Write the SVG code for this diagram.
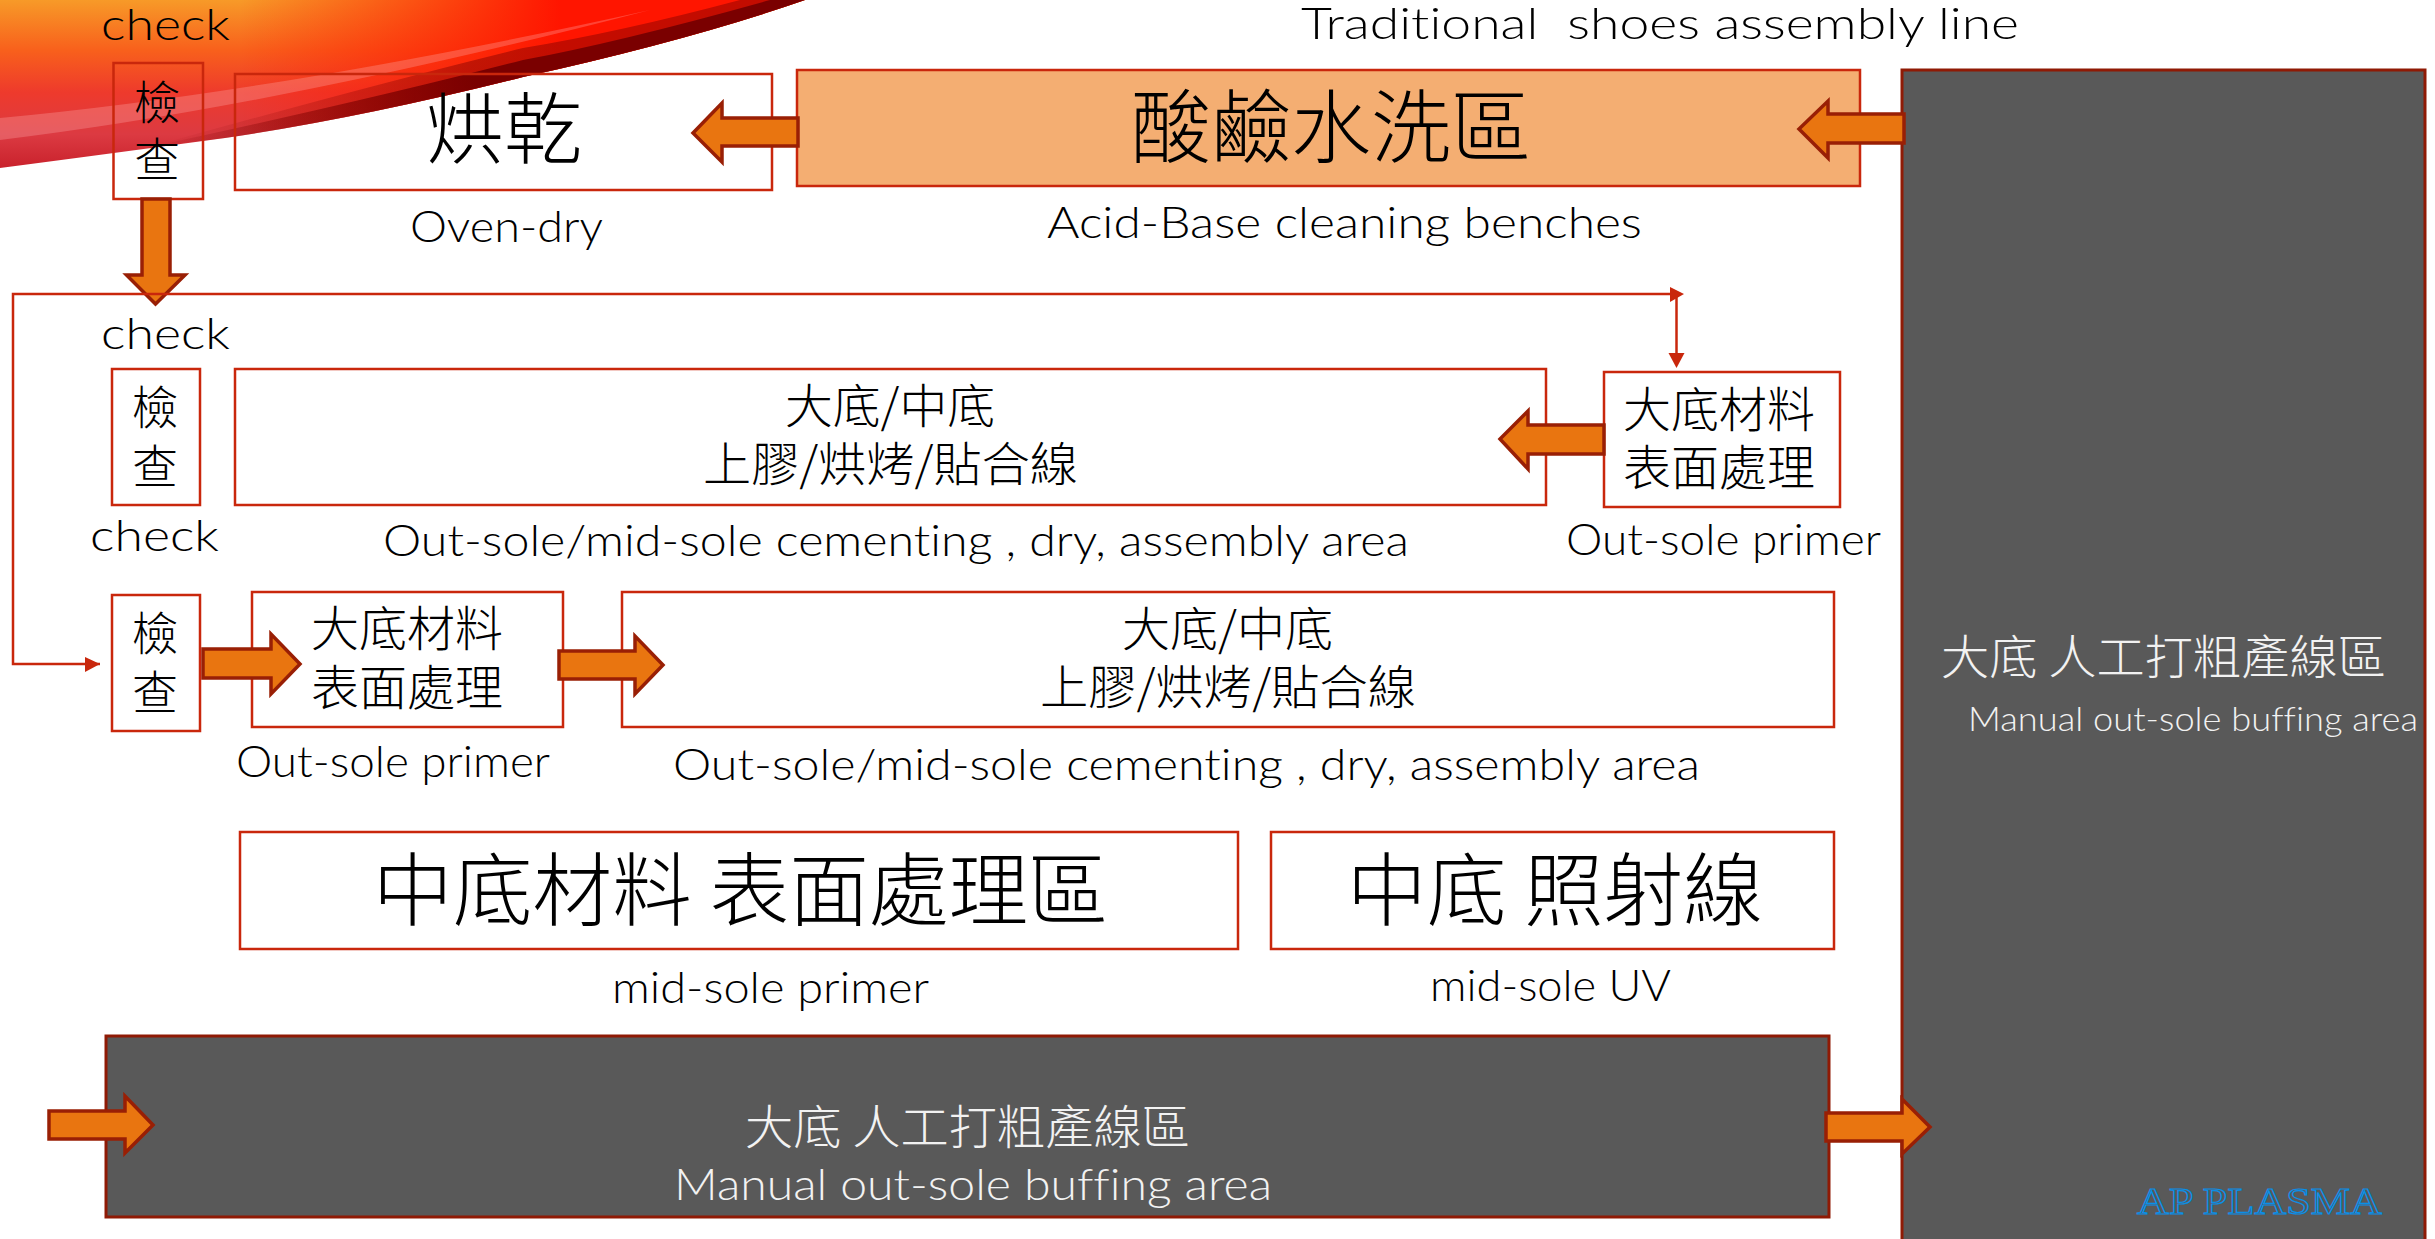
<svg xmlns="http://www.w3.org/2000/svg" width="2435" height="1239" viewBox="0 0 2435 1239">
<style>
text{font-family:"Lato","Noto Sans CJK TC",sans-serif;font-weight:300;fill:#000;white-space:pre;font-variant-ligatures:none}
.c{font-family:"Noto Sans CJK TC","Liberation Sans",sans-serif;font-weight:300}
.l{font-size:44px}
.w{fill:#f2f2f2}
.b{fill:none;stroke:#c9270c;stroke-width:2.5}
.d{fill:#595959;stroke:#8f1a05;stroke-width:3}
.a{fill:#e97510;stroke:#991f05;stroke-width:3.5}
.r{fill:none;stroke:#c9270c;stroke-width:2.500}
.h{fill:#c9270c}
</style>
<defs>
<linearGradient id="sw" gradientUnits="userSpaceOnUse" x1="0" y1="0" x2="0" y2="168">
<stop offset="0" stop-color="#f79a28"/><stop offset=".3" stop-color="#f8601c"/><stop offset=".55" stop-color="#ee3a2c"/><stop offset=".8" stop-color="#dc3a42"/><stop offset="1" stop-color="#c9222c"/>
</linearGradient>
<linearGradient id="sw2" gradientUnits="userSpaceOnUse" x1="240" y1="0" x2="560" y2="0">
<stop offset="0" stop-color="#ff1500" stop-opacity="0"/><stop offset="1" stop-color="#ff1500"/>
</linearGradient>
<linearGradient id="sw5" gradientUnits="userSpaceOnUse" x1="150" y1="150" x2="470" y2="60">
<stop offset="0" stop-color="#7a0000" stop-opacity="0"/><stop offset="1" stop-color="#7a0000"/>
</linearGradient>
</defs>
<rect width="2435" height="1239" fill="#fff"/>
<g id="banner">
<path d="M0 0H805Q690 40 523 77Q360 118 225 138Q100 155 0 168Z" fill="url(#sw)"/>
<path d="M0 0H805Q690 40 523 77Q360 118 225 138Q100 155 0 168Z" fill="url(#sw2)"/>
<path d="M0 118Q280 92 650 10Q280 106 0 140Z" fill="#ffb0b0" opacity=".3"/>
<path d="M150 147Q200 141 225 138Q360 118 523 77Q690 40 805 0H770Q620 42 523 60Q360 102 150 147Z" fill="url(#sw5)"/>
<path d="M150 147Q200 141 225 138Q360 118 523 77Q690 40 805 0H740Q620 32 523 48Q360 88 150 147Z" fill="url(#sw5)" opacity=".45"/>
</g>
<g id="node-right-buffing">
<rect class="d" x="1902" y="70" width="523" height="1175"/>
<text class="c w" x="1941" y="674" font-size="47" textLength="445" lengthAdjust="spacingAndGlyphs">大底 人工打粗產線區</text>
<text class="w" x="1968" y="731" font-size="34" textLength="450" lengthAdjust="spacingAndGlyphs">Manual out-sole buffing area</text>
<text x="2137" y="1214" font-size="37" style="font-family:'Liberation Serif',serif;fill:#595959;stroke:#0a8fe8;stroke-width:1.2" textLength="245" lengthAdjust="spacingAndGlyphs">AP PLASMA</text>
</g>
<g id="node-check-1">
<text class="l" x="101" y="40" textLength="129" lengthAdjust="spacingAndGlyphs">check</text>
<rect class="b" x="113.500" y="63" width="89.500" height="136"/>
<text class="c" x="134" y="119" font-size="46">檢</text>
<text class="c" x="134" y="176" font-size="46">查</text>
</g>
<g id="node-oven">
<rect class="b" x="235" y="74" width="537" height="116"/>
<text class="c" x="426" y="158" font-size="78">烘乾</text>
<text class="l" x="410" y="242" textLength="193" lengthAdjust="spacingAndGlyphs">Oven-dry</text>
</g>
<g id="node-acid">
<rect x="797" y="70" width="1063" height="116" fill="#f4ae72" stroke="#c9270c" stroke-width="2.500"/>
<text class="c" x="1131" y="156" font-size="80">酸鹼水洗區</text>
<text class="l" x="1047" y="238" textLength="595" lengthAdjust="spacingAndGlyphs">Acid-Base cleaning benches</text>
</g>
<text id="title" class="l" x="1301" y="39" textLength="718" lengthAdjust="spacingAndGlyphs">Traditional  shoes assembly line</text>
<g id="node-check-2">
<text class="l" x="101" y="349" textLength="129" lengthAdjust="spacingAndGlyphs">check</text>
<rect class="b" x="112" y="369" width="88" height="136"/>
<text class="c" x="132" y="424" font-size="46">檢</text>
<text class="c" x="132" y="483" font-size="46">查</text>
</g>
<g id="node-cement-1">
<rect class="b" x="235" y="369" width="1311" height="136"/>
<text class="c" x="785" y="423" font-size="47" textLength="210" lengthAdjust="spacingAndGlyphs">大底/中底</text>
<text class="c" x="703" y="481" font-size="47" textLength="375" lengthAdjust="spacingAndGlyphs">上膠/烘烤/貼合線</text>
<text class="l" x="383" y="556" textLength="1026" lengthAdjust="spacingAndGlyphs">Out-sole/mid-sole cementing , dry, assembly area</text>
</g>
<g id="node-primer-1">
<rect class="b" x="1604" y="372" width="236" height="135"/>
<text class="c" x="1623" y="427" font-size="48">大底材料</text>
<text class="c" x="1623" y="485" font-size="48">表面處理</text>
<text class="l" x="1566" y="555" textLength="315" lengthAdjust="spacingAndGlyphs">Out-sole primer</text>
</g>
<g id="node-check-3">
<text class="l" x="90" y="551" textLength="129" lengthAdjust="spacingAndGlyphs">check</text>
<rect class="b" x="112" y="595" width="88" height="136"/>
<text class="c" x="132" y="650" font-size="46">檢</text>
<text class="c" x="132" y="709" font-size="46">查</text>
</g>
<g id="node-primer-2">
<rect class="b" x="252" y="592" width="311" height="135"/>
<text class="c" x="311" y="646" font-size="48">大底材料</text>
<text class="c" x="311" y="705" font-size="48">表面處理</text>
<text class="l" x="236" y="777" textLength="314" lengthAdjust="spacingAndGlyphs">Out-sole primer</text>
</g>
<g id="node-cement-2">
<rect class="b" x="622" y="592" width="1212" height="135"/>
<text class="c" x="1122" y="646" font-size="47" textLength="211" lengthAdjust="spacingAndGlyphs">大底/中底</text>
<text class="c" x="1040" y="704" font-size="47" textLength="376" lengthAdjust="spacingAndGlyphs">上膠/烘烤/貼合線</text>
<text class="l" x="673" y="780" textLength="1027" lengthAdjust="spacingAndGlyphs">Out-sole/mid-sole cementing , dry, assembly area</text>
</g>
<g id="node-mid-primer">
<rect class="b" x="240" y="832" width="998" height="117"/>
<text class="c" x="373" y="919" font-size="80" textLength="735" lengthAdjust="spacingAndGlyphs">中底材料 表面處理區</text>
<text class="l" x="612" y="1003" textLength="317" lengthAdjust="spacingAndGlyphs">mid-sole primer</text>
</g>
<g id="node-mid-uv">
<rect class="b" x="1271" y="832" width="563" height="117"/>
<text class="c" x="1347" y="919" font-size="80" textLength="416" lengthAdjust="spacingAndGlyphs">中底 照射線</text>
<text class="l" x="1430" y="1001" textLength="241" lengthAdjust="spacingAndGlyphs">mid-sole UV</text>
</g>
<g id="node-bottom-buffing">
<rect class="d" x="106" y="1036" width="1723" height="181"/>
<text class="c w" x="745" y="1144" font-size="47" textLength="445" lengthAdjust="spacingAndGlyphs">大底 人工打粗產線區</text>
<text class="l w" x="674" y="1200" textLength="598" lengthAdjust="spacingAndGlyphs">Manual out-sole buffing area</text>
</g>
<g id="connectors">
<polygon class="a" points="142,199 170,199 170,275 185,275 155.500,304 126.500,275 142,275"/>
<polygon class="a" points="798,118 722,118 722,103 693,133 722,162 722,146 798,146"/>
<polygon class="a" points="1904,114 1828,114 1828,101 1799,129 1828,158 1828,143 1904,143"/>
<polygon class="a" points="1604,425 1528,425 1528,411 1500,439 1528,469 1528,454 1604,454"/>
<polygon class="a" points="203,649 271,649 271,634 300,664 271,694 271,678 203,678"/>
<polygon class="a" points="559,651 635,651 635,636 663,665 635,694 635,679 559,679"/>
<polygon class="a" points="49,1111 125,1111 125,1096 153,1125 125,1153 125,1139 49,1139"/>
<polygon class="a" points="1826,1113 1902,1113 1902,1099 1930,1127 1902,1154 1902,1141 1826,1141"/>
<path class="r" d="M100 664H13V294H1674"/>
<path class="r" d="M1676.500 294V355"/>
<polygon class="h" points="100,664 85,657 85,672"/>
<polygon class="h" points="1684,294 1670,287 1670,302"/>
<polygon class="h" points="1676.500,368 1668.500,353 1684.500,353"/>
</g>
</svg>
